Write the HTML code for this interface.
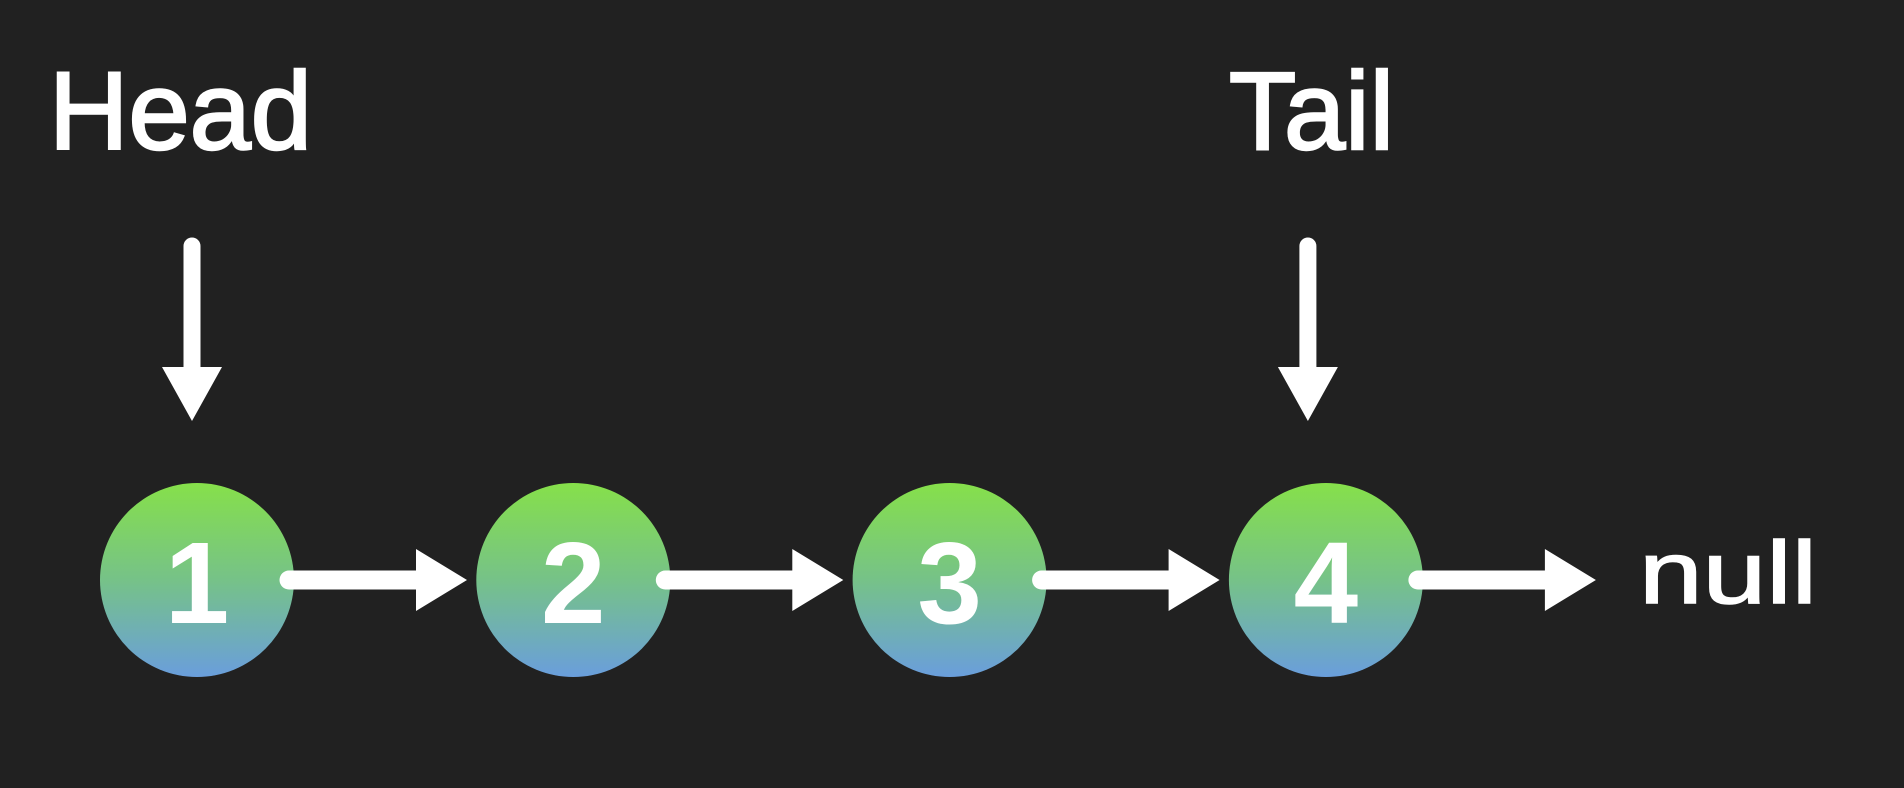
<!DOCTYPE html>
<html><head><meta charset="utf-8"><style>
html,body{margin:0;padding:0;background:#212121;}
svg{display:block;}
text{font-family:"Liberation Sans",sans-serif;fill:#fff;}
</style></head><body>
<svg id="chart" width="1904" height="788" viewBox="0 0 1904 788">
<defs><linearGradient id="ng" x1="0" y1="0" x2="0" y2="1">
<stop offset="0" stop-color="#86e04a"/><stop offset="0.5" stop-color="#76c288"/><stop offset="1" stop-color="#6a9edc"/></linearGradient></defs>
<g id="marks"></g>
</svg>
<script>
const nodeValues = ["1","2","3","4"];
const pointerLabels = ["Head","Tail"];
const pointerTargets = [0,3];
const terminalLabel = "null";

const NS="http://www.w3.org/2000/svg";
const g=document.getElementById('marks');
const x0=197, step=376.3, cy=580, r=97;
function xPos(i){return x0+i*step;}
function mk(tag,attrs){const e=document.createElementNS(NS,tag);for(const k in attrs)e.setAttribute(k,attrs[k]);g.appendChild(e);return e;}
function hArrow(x1,x2,name){
  const p=mk('path',{d:`M${x1} ${cy-9.5} L${x2-51} ${cy-9.5} L${x2-51} ${cy-31} L${x2} ${cy} L${x2-51} ${cy+31} L${x2-51} ${cy+9.5} L${x1} ${cy+9.5} A9.5 9.5 0 0 1 ${x1} ${cy-9.5}Z`,fill:'#fff'});
  
  
}
nodeValues.forEach((v,i)=>{
  const cx=xPos(i);
  const c=mk('circle',{cx:cx,cy:cy,r:r,fill:'url(#ng)'});
  
  
  const t=mk('text',{x:cx,y:cy+43,'text-anchor':'middle','font-size':116,'font-weight':'bold'});
  t.textContent=v;
  
  
  hArrow(cx+r-5, cx+r-5+178, 'next-arrow-'+v);
});
const nt=mk('text',{x:0,y:0,'font-size':88,stroke:'#fff','stroke-width':1.5,transform:'translate(1639,603) scale(1.3,1)'});
nt.textContent=terminalLabel;


pointerLabels.forEach((lab,j)=>{
  const cx=xPos(pointerTargets[j])+(j===0?-5:-18);
  const t=mk('text',{x:j===0?49:1229,y:149,'font-size':110,stroke:'#fff','stroke-width':2.5});
  t.textContent=lab;
  
  
  const p=mk('path',{d:`M${cx-8.5} 246 A8.5 8.5 0 0 1 ${cx+8.5} 246 L${cx+8.5} 367 L${cx+30} 367 L${cx} 421 L${cx-30} 367 L${cx-8.5} 367Z`,fill:'#fff'});
  
  
});
</script>
</body></html>
